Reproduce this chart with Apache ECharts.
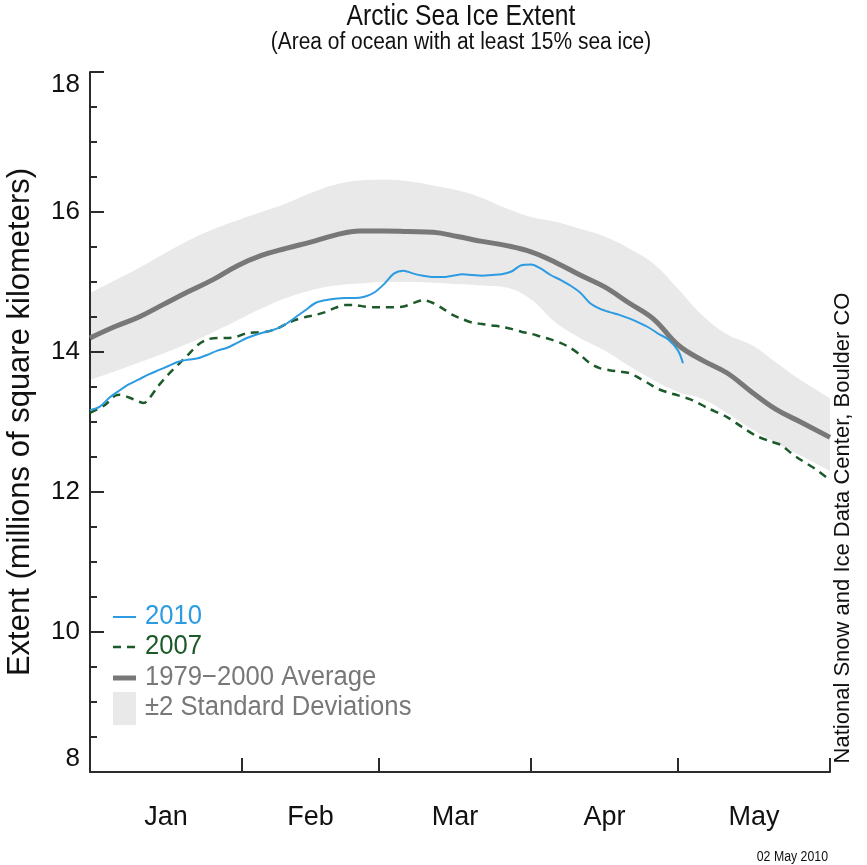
<!DOCTYPE html>
<html>
<head>
<meta charset="utf-8">
<title>Arctic Sea Ice Extent</title>
<script src="https://cdn.jsdelivr.net/npm/echarts@6/dist/echarts.min.js"></script>
<style>
  html, body { margin: 0; padding: 0; background: #ffffff; }
  #chart { width: 867px; height: 865px; }
</style>
</head>
<body>
<div id="chart"></div>
<script>
// Day of year (Jan 1 = 0) at which each month starts; last entry is Jun 1.
const monthNames = ['Jan', 'Feb', 'Mar', 'Apr', 'May'];
const monthStarts = [0, 31, 59, 90, 120, 151];

// 1979-2000 average and its +/-2 standard deviation envelope (millions of km²)
const climDays  = [0, 5, 10, 15, 20, 25, 30, 35, 40, 45, 50, 55, 60, 65, 70, 75, 80, 85, 90, 95, 100, 105, 110, 115, 120, 125, 130, 135, 140, 145, 151];
const avgExtent = [14.20, 14.36, 14.50, 14.68, 14.86, 15.03, 15.23, 15.38, 15.48, 15.57, 15.67, 15.73, 15.73, 15.72, 15.71, 15.65, 15.58, 15.52, 15.43, 15.28, 15.10, 14.93, 14.70, 14.47, 14.10, 13.88, 13.70, 13.43, 13.18, 13.00, 12.78];
const sdUpper   = [14.84, 15.02, 15.20, 15.40, 15.59, 15.75, 15.88, 16.00, 16.12, 16.27, 16.39, 16.45, 16.46, 16.44, 16.38, 16.31, 16.20, 16.05, 15.93, 15.86, 15.76, 15.65, 15.48, 15.26, 14.90, 14.52, 14.25, 14.10, 13.85, 13.60, 13.34];
const sdLower   = [13.60, 13.72, 13.85, 13.98, 14.12, 14.28, 14.45, 14.62, 14.77, 14.88, 14.95, 14.98, 15.00, 15.00, 14.99, 14.97, 14.95, 14.92, 14.75, 14.42, 14.20, 14.02, 13.80, 13.60, 13.43, 13.33, 13.13, 12.90, 12.70, 12.52, 12.30];

// 2010 daily extent (through 1 May)
const days2010 = [0, 2, 4, 6, 8, 10, 12, 14, 16, 18, 20, 22, 24, 26, 28, 30, 32, 34, 36, 38, 40, 42, 44, 46, 48, 50, 52, 54, 56, 58, 60, 62, 64, 66, 68, 70, 72, 74, 76, 78, 80, 82, 84, 86, 88, 90, 92, 94, 96, 98, 100, 102, 104, 106, 108, 110, 112, 114, 116, 118, 120, 121];
const ext2010  = [13.17, 13.22, 13.35, 13.45, 13.54, 13.61, 13.68, 13.74, 13.80, 13.86, 13.89, 13.91, 13.96, 14.02, 14.06, 14.13, 14.20, 14.25, 14.29, 14.33, 14.40, 14.50, 14.60, 14.70, 14.74, 14.76, 14.77, 14.77, 14.79, 14.85, 14.97, 15.12, 15.16, 15.12, 15.09, 15.07, 15.07, 15.09, 15.11, 15.10, 15.09, 15.10, 15.11, 15.15, 15.24, 15.25, 15.19, 15.10, 15.03, 14.95, 14.85, 14.70, 14.62, 14.57, 14.53, 14.48, 14.42, 14.35, 14.26, 14.18, 14.02, 13.84];

// 2007 daily extent
const days2007 = [0, 3, 5, 6, 8, 10, 11, 12, 14, 16, 18, 20, 22, 24, 26, 28, 30, 32, 34, 36, 38, 40, 42, 44, 46, 48, 50, 52, 54, 56, 58, 60, 62, 64, 66, 68, 70, 72, 74, 76, 78, 80, 82, 84, 86, 88, 90, 92, 94, 96, 98, 100, 102, 104, 106, 108, 110, 112, 114, 116, 118, 120, 123, 126, 130, 133, 136, 139, 141, 143, 145, 148, 151];
const ext2007  = [13.13, 13.24, 13.37, 13.39, 13.35, 13.29, 13.27, 13.33, 13.52, 13.68, 13.82, 13.96, 14.10, 14.18, 14.20, 14.20, 14.22, 14.27, 14.28, 14.29, 14.33, 14.40, 14.46, 14.50, 14.53, 14.57, 14.63, 14.67, 14.67, 14.65, 14.64, 14.64, 14.64, 14.65, 14.70, 14.74, 14.70, 14.62, 14.53, 14.47, 14.42, 14.40, 14.38, 14.36, 14.33, 14.29, 14.26, 14.22, 14.18, 14.13, 14.06, 13.96, 13.84, 13.77, 13.74, 13.72, 13.70, 13.63, 13.55, 13.47, 13.42, 13.38, 13.31, 13.20, 13.07, 12.93, 12.80, 12.72, 12.67, 12.56, 12.46, 12.33, 12.17];

const yMin = 8, yMax = 18, yStep = 2;

const pairs = (xs, ys) => xs.map((x, i) => [x, ys[i]]);
const monthMids = monthNames.map((_, i) => (monthStarts[i] + monthStarts[i + 1]) / 2);

const sans = "'Liberation Sans', Arial, Helvetica, sans-serif";
const axisColor = '#2b2b2b';
const c2010 = '#2c9be2';
const c2007 = '#1c5a2a';
const cAvg = '#787878';
const cBand = '#e9e9e9';

// condensed-looking text: horizontal squeeze around the anchor point
const label = (text, x, y, size, fill, align, squeeze) => ({
  type: 'text', x: x, y: y, scaleX: squeeze, z: 10,
  style: { text: text, align: align, verticalAlign: 'middle', font: size + 'px ' + sans, fill: fill }
});

const chart = echarts.init(document.getElementById('chart'), null, { renderer: 'canvas' });

chart.setOption({
  backgroundColor: '#ffffff',
  animation: false,
  grid: { left: 90, right: 37, top: 72, bottom: 93, containLabel: false, outerBoundsMode: 'none' },
  xAxis: {
    type: 'value',
    min: monthStarts[0],
    max: monthStarts[monthStarts.length - 1],
    splitLine: { show: false },
    axisLine: { show: true, onZero: false, lineStyle: { color: axisColor, width: 2 } },
    axisTick: {
      show: true, inside: true, length: 14,
      customValues: monthStarts.slice(1),
      lineStyle: { color: axisColor, width: 2 }
    },
    axisLabel: {
      show: true,
      customValues: monthMids,
      margin: 32,
      fontFamily: sans, fontSize: 27, color: '#111',
      formatter: v => {
        let best = 0;
        monthMids.forEach((m, i) => { if (Math.abs(m - v) < Math.abs(monthMids[best] - v)) best = i; });
        return monthNames[best];
      }
    }
  },
  yAxis: {
    type: 'value',
    min: yMin, max: yMax, interval: yStep,
    name: 'Extent (millions of square kilometers)',
    nameLocation: 'middle',
    nameGap: 54,
    nameTextStyle: { fontFamily: sans, fontSize: 31, color: '#111' },
    splitLine: { show: false },
    axisLine: { show: true, onZero: false, lineStyle: { color: axisColor, width: 2 } },
    axisTick: { show: true, inside: true, length: 14, lineStyle: { color: axisColor, width: 2 } },
    minorTick: { show: true, splitNumber: 4, length: 7, lineStyle: { color: axisColor, width: 2 } },
    minorSplitLine: { show: false },
    axisLabel: {
      margin: 10,
      fontFamily: sans, fontSize: 26, color: '#111',
      verticalAlignMaxLabel: 'top',
      verticalAlignMinLabel: 'bottom'
    }
  },
  series: [
    {
      // envelope: grey fill from the upper bound down, then white fill from the lower bound down
      name: '±2 Standard Deviations',
      type: 'line',
      data: pairs(climDays, sdUpper),
      smooth: 0.4,
      symbol: 'none',
      silent: true,
      lineStyle: { width: 0, opacity: 0 },
      areaStyle: { color: cBand, opacity: 1, origin: 'start' },
      z: -2
    },
    {
      name: 'sd-lower',
      type: 'line',
      data: pairs(climDays, sdLower),
      smooth: 0.4,
      symbol: 'none',
      silent: true,
      lineStyle: { width: 0, opacity: 0 },
      areaStyle: { color: '#ffffff', opacity: 1, origin: 'start' },
      z: -1
    },
    {
      name: '1979-2000 Average',
      type: 'line',
      data: pairs(climDays, avgExtent),
      smooth: 0.4,
      symbol: 'none',
      lineStyle: { color: cAvg, width: 5 },
      z: 2
    },
    {
      name: '2007',
      type: 'line',
      data: pairs(days2007, ext2007),
      smooth: 0.3,
      symbol: 'none',
      lineStyle: { color: c2007, width: 2.5, type: [8, 6] },
      z: 3
    },
    {
      name: '2010',
      type: 'line',
      data: pairs(days2010, ext2010),
      smooth: 0.3,
      symbol: 'none',
      lineStyle: { color: c2010, width: 2 },
      z: 4
    }
  ],
  graphic: [
    // titles
    label('Arctic Sea Ice Extent', 461, 17, 29, '#111', 'center', 0.85),
    label('(Area of ocean with at least 15% sea ice)', 461, 43, 23, '#111', 'center', 0.91),
    // credit line on the right and date stamp
    { type: 'text', x: 843, y: 528, rotation: Math.PI / 2, z: 10,
      style: { text: 'National Snow and Ice Data Center, Boulder CO', align: 'center', verticalAlign: 'middle', font: '22px ' + sans, fill: '#111' } },
    label('02 May 2010', 828, 857, 14, '#111', 'right', 0.88),
    // legend
    { type: 'line', z: 10, shape: { x1: 113, y1: 617, x2: 136, y2: 617 }, style: { stroke: c2010, lineWidth: 2 } },
    label('2010', 145, 617, 27, c2010, 'left', 0.95),
    { type: 'line', z: 10, shape: { x1: 113, y1: 647, x2: 137, y2: 647 }, style: { stroke: c2007, lineWidth: 2.5, lineDash: [8, 6] } },
    label('2007', 145, 647, 27, c2007, 'left', 0.95),
    { type: 'line', z: 10, shape: { x1: 113, y1: 678, x2: 136, y2: 678 }, style: { stroke: cAvg, lineWidth: 5 } },
    label('1979\u22122000 Average', 145, 678, 27, cAvg, 'left', 0.95),
    { type: 'rect', z: 10, shape: { x: 113, y: 692, width: 23, height: 33 }, style: { fill: cBand } },
    label('\u00b12 Standard Deviations', 145, 708, 27, cAvg, 'left', 0.95)
  ]
});
</script>
</body>
</html>
